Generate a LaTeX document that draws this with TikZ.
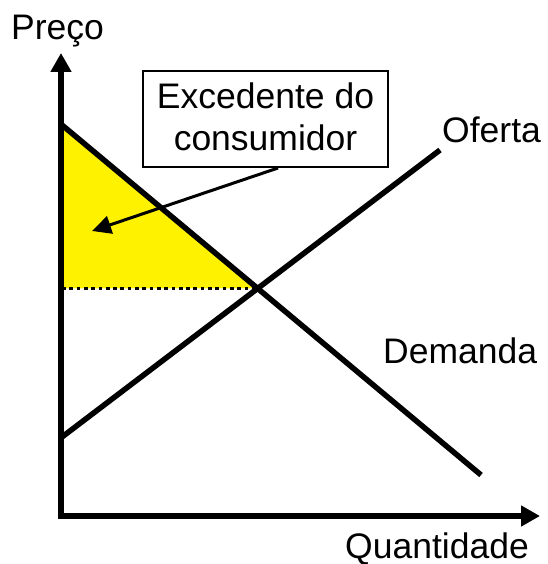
\documentclass[tikz,border=0pt]{standalone}
\usepackage{fontspec}
\setmainfont{Liberation Sans}
\usetikzlibrary{arrows.meta}
\begin{document}
\begin{tikzpicture}[x=1pt,y=-1pt,
  thick line/.style={line width=5.5pt},
  axisline/.style={line width=5.5pt,-{Triangle[length=19pt,width=20pt]}},
  ptr/.style={line width=3pt,-{Triangle[length=19pt,width=18pt]}},
  lbl/.style={inner sep=0pt,anchor=base west,font=\fontsize{35.5}{42}\selectfont},
  dotline/.style={line width=3.6pt,dash pattern=on 3.7pt off 3.6pt},
  surplus/.style={fill=yellow,draw=none}]
\useasboundingbox (0,0) rectangle (547,564);
% key points
\coordinate (O) at (61,516);
\coordinate (ytip) at (61,53);
\coordinate (xtip) at (540,516);
\coordinate (dtop) at (62,125);
\coordinate (dend) at (481,475);
\coordinate (sbot) at (62,437);
\coordinate (stop) at (440,150);
\coordinate (eq) at (257.7,288.4);
\coordinate (pq) at (62,288.4);
% surplus area
\fill[surplus] (dtop) -- (pq) -- (eq) -- cycle;
\draw[dotline] (pq) -- (eq);
% curves
\draw[thick line] (dtop) -- (dend);
\draw[thick line] (sbot) -- (stop);
% axes
\draw[axisline] ([yshift=2.75pt]O) -- (ytip);
\draw[axisline] ([xshift=-2.75pt]O) -- (xtip);
% labels
\node[lbl] (preco) at (11,40) {Preço};
\node[lbl] (quant) at (345,558) {Quantidade};
\node[lbl] (oferta) at (442,143) {Oferta};
\node[lbl] (demanda) at (383,363) {Demanda};
% box
\node[draw,line width=2pt,minimum width=245pt,minimum height=96pt,inner sep=0pt] (box) at (265.5,119) {};
\node[inner sep=0pt,anchor=base,align=center,font=\fontsize{35.5}{42}\selectfont] (boxtext) at (265.5,150) {Excedente do\\consumidor};
\coordinate (ptip) at (92,231);
\draw[ptr] ([xshift=12.5pt]box.south) -- (ptip);
\end{tikzpicture}
\end{document}
